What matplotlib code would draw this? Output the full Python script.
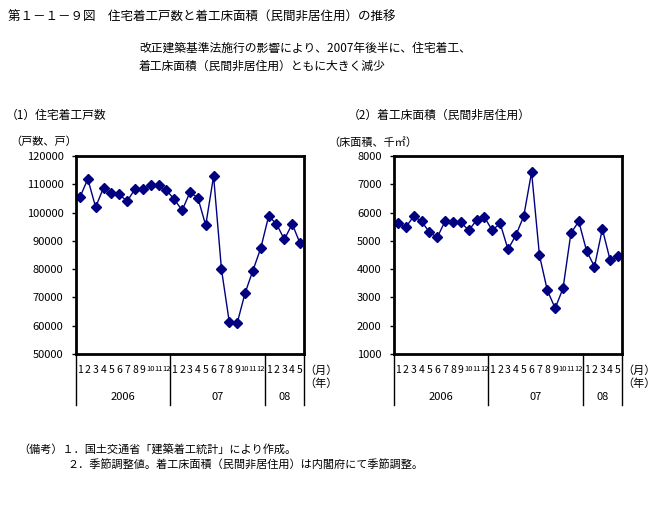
import matplotlib
matplotlib.use("Agg")
import matplotlib.pyplot as plt
import numpy as np

plt.rcParams['font.family'] = ['Noto Sans CJK JP', 'DejaVu Sans']

# 2006/1 - 2008/5, monthly, seasonally adjusted
months = [str(m) for m in range(1, 13)] * 2 + [str(m) for m in range(1, 6)]
years = ["2006", "07", "08"]
year_lengths = [12, 12, 5]

housing_starts = [105400, 111900, 101900, 108800, 106800, 106400, 104000, 108300, 108300,
                  109600, 109600, 107900,
                  104700, 100800, 107200, 105200, 95500, 112900, 80000, 61200, 60900,
                  71500, 79500, 87400,
                  98700, 96000, 90500, 96000, 89100]

floor_area = [5620, 5480, 5870, 5690, 5310, 5120, 5700, 5660, 5660, 5370, 5730, 5840,
              5370, 5620, 4700, 5200, 5870, 7430, 4490, 3250, 2620, 3320, 5270, 5690,
              4640, 4090, 5420, 4310, 4470]

W, H = 671, 505
fig = plt.figure(figsize=(W / 100, H / 100), dpi=100)


def ftext(x, y, s, **kw):
    kw.setdefault("fontsize", 8)
    kw.setdefault("va", "center")
    fig.text(x / W, 1 - y / H, s, **kw)


def make_panel(left_px, values, ylim, step, unit):
    ax = fig.add_axes([left_px / W, 1 - 354 / H, 228 / W, 198 / H])
    x = np.arange(len(values))
    ax.plot(x, values, color="#000080", lw=1, marker="D", ms=5,
            markerfacecolor="#000080", markeredgecolor="#000080")
    ax.set_xlim(-0.5, len(values) - 0.5)
    ax.set_ylim(*ylim)
    ax.set_yticks(np.arange(ylim[0], ylim[1] + 1, step))
    ax.tick_params(axis="y", length=3, width=1, labelsize=8, pad=6)
    for sp in ax.spines.values():
        sp.set_linewidth(2)
    ax.set_xticks(x)
    ax.set_xticklabels(months, fontsize=7.5)
    for lab in ax.get_xticklabels():
        if len(lab.get_text()) > 1:
            lab.set_fontsize(5.5)
    ax.tick_params(axis="x", length=0, pad=8)

    # year separators and labels below the month labels
    edges = np.concatenate([[0], np.cumsum(year_lengths)]) - 0.5
    for e in edges:
        ax.plot([e, e], [0, -0.26], transform=ax.get_xaxis_transform(),
                color="black", lw=1, clip_on=False)
    for i, yr in enumerate(years):
        ax.text((edges[i] + edges[i + 1]) / 2, -0.215, yr, ha="center", va="center",
                fontsize=8, transform=ax.get_xaxis_transform())
    ax.text(1.0, -0.085, "（月）", transform=ax.transAxes, ha="left", va="center", fontsize=8)
    ax.text(1.0, -0.15, "（年）", transform=ax.transAxes, ha="left", va="center", fontsize=8)
    ax.text(-0.29, 1.07, unit, transform=ax.transAxes, ha="left", va="center", fontsize=8)
    return ax


make_panel(76, housing_starts, (50000, 120000), 10000, "（戸数、戸）")
make_panel(394, floor_area, (1000, 8000), 1000, "（床面積、千㎡）")

ftext(8, 17, "第１－１－９図　住宅着工戸数と着工床面積（民間非居住用）の推移", fontsize=9)
ftext(139, 48, "改正建築基準法施行の影響により、2007年後半に、住宅着工、", fontsize=8.5)
ftext(139, 66, "着工床面積（民間非居住用）ともに大きく減少", fontsize=8.5)
ftext(6, 115, "（1）住宅着工戸数", fontsize=8.5)
ftext(348, 115, "（2）着工床面積（民間非居住用）", fontsize=8.5)
ftext(18, 449, "（備考）１．国土交通省「建築着工統計」により作成。", fontsize=8)
ftext(67, 464, "２．季節調整値。着工床面積（民間非居住用）は内閣府にて季節調整。", fontsize=8)

fig.savefig("out.png", dpi=100)
